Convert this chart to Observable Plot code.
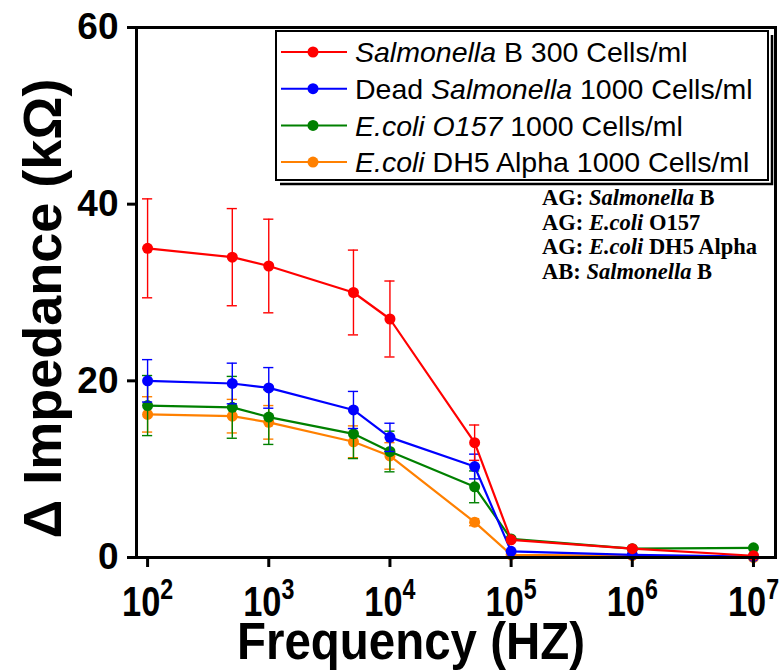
<!DOCTYPE html>
<html>
<head>
<meta charset="utf-8">
<script src="https://cdn.jsdelivr.net/npm/d3@7"></script>
<script src="https://cdn.jsdelivr.net/npm/@observablehq/plot@0.6"></script>
<style>
  html, body { margin: 0; padding: 0; background: #fff; overflow: hidden; }
  #chart { width: 783px; height: 670px; }
</style>
</head>
<body>
<div id="chart"></div>
<script>
// ---- Data ----
const frequencies = [100, 500, 1000, 5000, 10000, 50000, 100000, 1000000, 10000000];

const salmonellaB     = [35.0, 34.0, 33.0, 30.0, 27.0, 13.0, 2.0, 1.0, 0.2];
const salmonellaBErr  = [5.6, 5.5, 5.3, 4.8, 4.3, 2.0, 0, 0, 0];

const deadSalmonella    = [20.0, 19.7, 19.2, 16.7, 13.6, 10.3, 0.7, 0.3, 0.1];
const deadSalmonellaErr = [2.4, 2.3, 2.3, 2.1, 1.6, 1.4, 0, 0, 0];

const ecoliO157    = [17.2, 17.0, 15.9, 14.0, 12.0, 8.0, 2.1, 1.0, 1.1];
const ecoliO157Err = [3.4, 3.5, 3.1, 2.8, 2.3, 1.8, 0, 0, 0];

const ecoliDH5    = [16.2, 16.0, 15.3, 13.1, 11.5, 4.0, 0.3, 0.2, 0.0];
const ecoliDH5Err = [2.0, 1.9, 1.9, 1.8, 1.5, 0.4, 0, 0, 0];

const yTicks = [0, 20, 40, 60];
const xTicks = [1e2, 1e3, 1e4, 1e5, 1e6, 1e7];

const legendParts = [
  [["Salmonella", true], [" B 300 Cells/ml", false]],
  [["Dead ", false], ["Salmonella", true], [" 1000 Cells/ml", false]],
  [["E.coli O157", true], [" 1000 Cells/ml", false]],
  [["E.coli", true], [" DH5 Alpha 1000 Cells/ml", false]]
];
const annotationLines = [
  [["AG: ", false], ["Salmonella", true], [" B", false]],
  [["AG: ", false], ["E.coli", true], [" O157", false]],
  [["AG: ", false], ["E.coli", true], [" DH5 Alpha", false]],
  [["AB: ", false], ["Salmonella", true], [" B", false]]
];

const colors = ["#ff0000", "#0000ff", "#008000", "#ff8000"];
const seriesValues = [salmonellaB, deadSalmonella, ecoliO157, ecoliDH5];
const seriesErrors = [salmonellaBErr, deadSalmonellaErr, ecoliO157Err, ecoliDH5Err];

const series = seriesValues.map((vals, i) => ({
  color: colors[i],
  rows: frequencies.map((f, j) => ({freq: f, y: vals[j], err: seriesErrors[i][j]}))
}));

const capF = Math.pow(10, 0.042);
const font = "Liberation Sans, Arial, sans-serif";

const marks = [];
// draw order: orange, green, blue, red
[3, 2, 1, 0].forEach(i => {
  const s = series[i];
  const withErr = s.rows.filter(d => d.err > 0);
  marks.push(
    Plot.ruleX(withErr, {x: "freq", y1: d => d.y - d.err, y2: d => d.y + d.err, stroke: s.color, strokeWidth: 1.4}),
    Plot.ruleY(withErr, {y: d => d.y + d.err, x1: d => d.freq / capF, x2: d => d.freq * capF, stroke: s.color, strokeWidth: 1.4}),
    Plot.ruleY(withErr, {y: d => d.y - d.err, x1: d => d.freq / capF, x2: d => d.freq * capF, stroke: s.color, strokeWidth: 1.4}),
    Plot.line(s.rows, {x: "freq", y: "y", stroke: s.color, strokeWidth: 2.2}),
    Plot.dot(s.rows, {x: "freq", y: "y", r: 5.5, fill: s.color, stroke: "none"})
  );
});

const svg = Plot.plot({
  width: 783,
  height: 670,
  marginLeft: 136,
  marginRight: 8,
  marginTop: 27,
  marginBottom: 113,
  style: {fontFamily: font, background: "#fff", overflow: "visible"},
  x: {type: "log", domain: [81, 1.52e7]},
  y: {domain: [0, 60]},
  marks: [
    ...marks,
    Plot.frame({stroke: "black", strokeWidth: 3}),
    Plot.axisY({ticks: yTicks, tickSize: 9, tickPadding: 9, fontSize: 37, fontWeight: "bold", strokeWidth: 3, label: null, tickFormat: d => String(d)}),
    Plot.axisX({ticks: xTicks, tickSize: 10, tickPadding: 18, fontSize: 43, fontWeight: "bold", strokeWidth: 3, label: null,
      tickFormat: d => String(Math.round(Math.log10(d)))}),
    Plot.text(["Δ Impedance (kΩ)"], {frameAnchor: "left", textAnchor: "middle", lineAnchor: "middle", rotate: -90, dx: -93, dy: 16, fontSize: 54, fontWeight: "bold", fill: "black"}),
    Plot.text(["Frequency (HZ)"], {frameAnchor: "bottom", textAnchor: "middle", lineAnchor: "middle", dx: -45, dy: 85, fontSize: 51, fontWeight: "bold", fill: "black"})
  ]
});

document.getElementById("chart").appendChild(svg);

// superscript exponents on x tick labels (condensed like the reference)
d3.select(svg).selectAll('g[aria-label="x-axis tick label"] text').each(function() {
  const t = d3.select(this);
  const exp = t.text();
  t.text("");
  t.append("tspan").text("10");
  t.append("tspan").attr("dy", -17).attr("font-size", 29).text(exp);
  const tr = t.attr("transform") || "";
  t.attr("transform", tr + " scale(0.8,1)");
});

// condense the x title horizontally
d3.select(svg).selectAll("text").filter(function() { return this.textContent === "Frequency (HZ)"; })
  .attr("textLength", 348).attr("lengthAdjust", "spacingAndGlyphs");

// legend (Origin-style box with shadow)
const lg = d3.select(svg).append("g").attr("font-family", font).attr("text-anchor", "start");
lg.append("path").attr("d", "M280,184H772V35").attr("fill", "none").attr("stroke", "black").attr("stroke-width", 2.5);
lg.append("rect").attr("x", 276).attr("y", 31).attr("width", 492).attr("height", 149)
  .attr("fill", "white").attr("stroke", "black").attr("stroke-width", 2);
legendParts.forEach((parts, i) => {
  const cy = 52 + i * 36.7;
  lg.append("line").attr("x1", 281).attr("x2", 347).attr("y1", cy).attr("y2", cy).attr("stroke", colors[i]).attr("stroke-width", 2);
  lg.append("circle").attr("cx", 313).attr("cy", cy).attr("r", 5.5).attr("fill", colors[i]);
  const t = lg.append("text").attr("x", 355).attr("y", cy).attr("dy", "0.36em").attr("font-size", 28.5).attr("fill", "black");
  parts.forEach(([s, it]) => t.append("tspan").attr("font-style", it ? "italic" : "normal").text(s));
});

// annotation block
const an = d3.select(svg).append("g").attr("font-family", "Liberation Serif, Times New Roman, serif").attr("text-anchor", "start");
annotationLines.forEach((parts, i) => {
  const t = an.append("text").attr("x", 542).attr("y", 197 + i * 24.8).attr("dy", "0.35em")
    .attr("font-size", 22.5).attr("font-weight", "bold").attr("fill", "black");
  parts.forEach(([s, it]) => t.append("tspan").attr("font-style", it ? "italic" : "normal").text(s));
});
</script>
</body>
</html>
